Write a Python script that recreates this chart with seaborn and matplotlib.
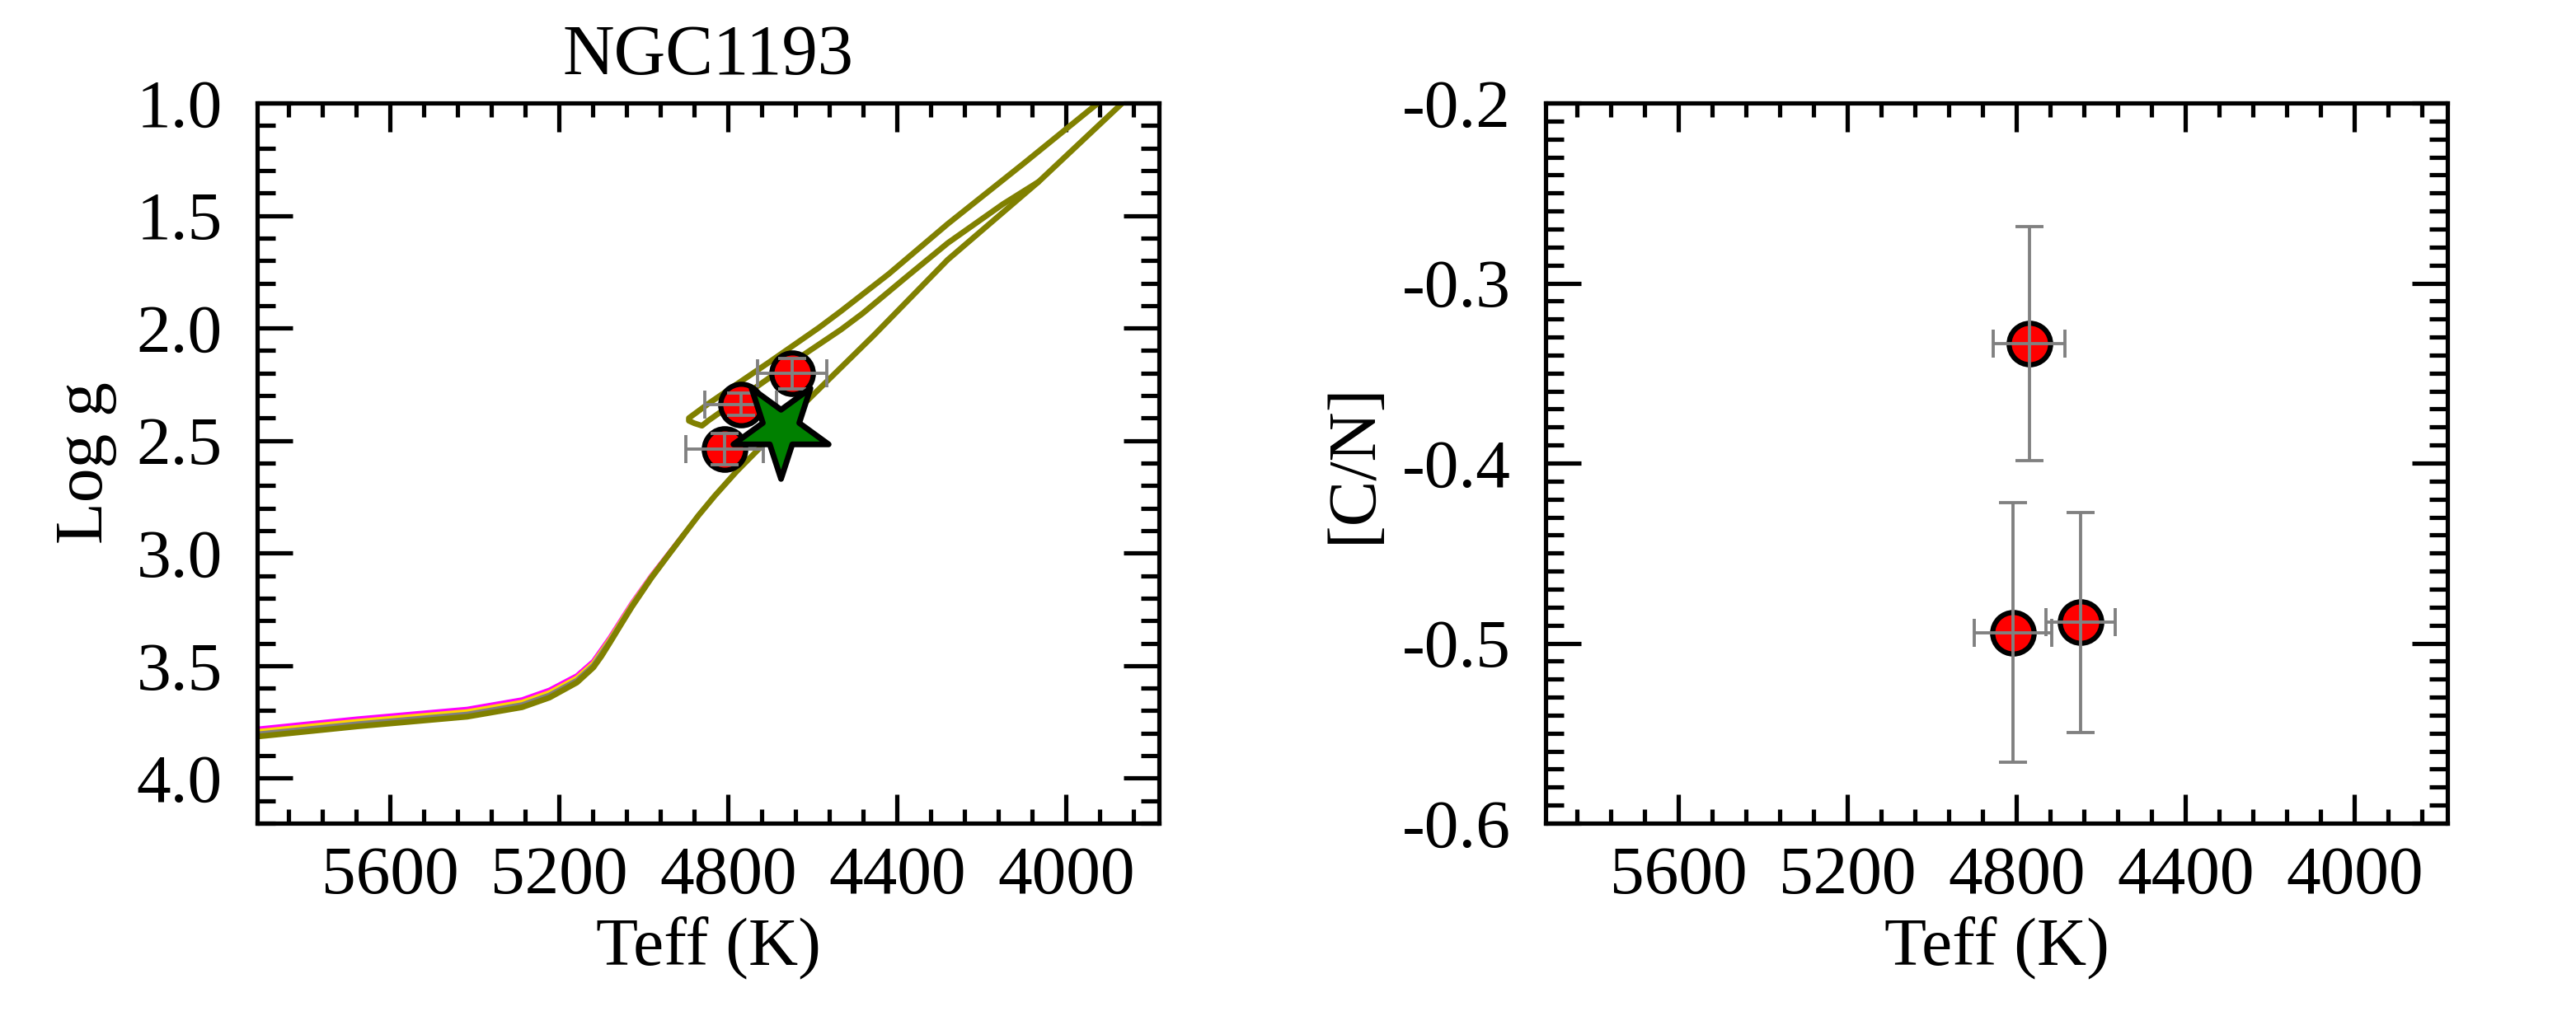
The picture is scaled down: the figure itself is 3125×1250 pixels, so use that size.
import matplotlib
matplotlib.use("Agg")
import matplotlib.pyplot as plt
import seaborn as sns
from matplotlib.markers import MarkerStyle
from matplotlib.transforms import Affine2D
from matplotlib.ticker import MultipleLocator, FormatStrFormatter

# ---------------- data ----------------
# observed stars (NGC1193 giants)
star_teff = [4648, 4770, 4808]
star_teff_err = [82, 85, 92]
star_logg = [2.202, 2.339, 2.538]
star_logg_err = [0.067, 0.049, 0.070]
star_cn = [-0.4885, -0.3335, -0.4941]
star_cn_err = [0.061, 0.065, 0.072]

# mean cluster position (star symbol)
mean_teff = [4675]
mean_logg = [2.446]

# isochrone: turn-off / subgiant / RGB (olive)
rgb_teff = [5930, 5678, 5418, 5288, 5223, 5158, 5119, 5100, 5080, 5054, 5028, 4982,
            4940, 4905, 4870, 4832, 4780, 4700, 4600, 4455, 4280, 4065, 3870, 3840]
rgb_logg = [3.818, 3.770, 3.727, 3.685, 3.642, 3.575, 3.508, 3.458, 3.398, 3.318, 3.239, 3.111,
            3.005, 2.918, 2.832, 2.746, 2.637, 2.485, 2.299, 2.032, 1.696, 1.350, 1.006, 0.955]

# isochrone: red clump loop / AGB (olive)
loop_teff = [3905, 3928, 4100, 4280, 4420, 4533, 4585, 4700, 4780, 4846, 4880, 4893, 4893,
             4880, 4862, 4846, 4700, 4533, 4481, 4380, 4280, 4150, 4065]
loop_logg = [0.960, 1.006, 1.268, 1.537, 1.760, 1.925, 1.998, 2.148, 2.250, 2.335, 2.382, 2.400, 2.412,
             2.423, 2.434, 2.410, 2.218, 2.007, 1.934, 1.776, 1.622, 1.450, 1.350]

# neighbouring isochrones on the subgiant branch
sgb_teff = [5930, 5678, 5418, 5288, 5223, 5158, 5119, 5080, 5028, 4982, 4905]
sgb_logg_gray = [3.807, 3.759, 3.716, 3.674, 3.631, 3.565, 3.499, 3.391, 3.234, 3.108, 2.919]
sgb_logg_yellow = [3.796, 3.748, 3.705, 3.663, 3.620, 3.555, 3.490, 3.384, 3.229, 3.105, 2.918]
sgb_logg_magenta = [3.785, 3.737, 3.694, 3.652, 3.609, 3.545, 3.481, 3.377, 3.224, 3.102, 2.917]

# ---------------- style ----------------
sns.set_theme(style="ticks")
plt.rcParams["font.family"] = ["Liberation Serif", "DejaVu Serif"]
plt.rcParams["axes.unicode_minus"] = False
plt.rcParams["axes.linewidth"] = 1.5
plt.rcParams["axes.edgecolor"] = "black"
plt.rcParams["xtick.color"] = "black"
plt.rcParams["ytick.color"] = "black"
plt.rcParams["text.color"] = "black"
plt.rcParams["axes.labelcolor"] = "black"

FS = 24

fig = plt.figure(figsize=(12.5, 5), dpi=250)
ax1 = fig.add_axes([0.09984, 0.2008, 0.35008, 0.6992])
ax2 = fig.add_axes([0.6, 0.2008, 0.35008, 0.6992])

# ---------------- left panel ----------------
sns.lineplot(x=sgb_teff, y=sgb_logg_magenta, sort=False, estimator=None,
             color="magenta", linewidth=1.8, zorder=1.0, ax=ax1)
sns.lineplot(x=sgb_teff, y=sgb_logg_yellow, sort=False, estimator=None,
             color="gold", linewidth=1.8, zorder=1.1, ax=ax1)
sns.lineplot(x=sgb_teff, y=sgb_logg_gray, sort=False, estimator=None,
             color="gray", linewidth=1.8, zorder=1.2, ax=ax1)
sns.lineplot(x=rgb_teff, y=rgb_logg, sort=False, estimator=None,
             color="olive", linewidth=2.0, zorder=1.3, ax=ax1)
sns.lineplot(x=loop_teff, y=loop_logg, sort=False, estimator=None,
             color="olive", linewidth=2.0, zorder=1.3, ax=ax1)

sns.scatterplot(x=star_teff, y=star_logg, s=14.5 ** 2, color="red",
                edgecolor="black", linewidth=1.8, zorder=3, legend=False, ax=ax1)
ax1.errorbar(star_teff, star_logg, xerr=star_teff_err, yerr=star_logg_err,
             fmt="none", ecolor="gray", elinewidth=1.1, capsize=5, capthick=1.1,
             zorder=4)
star_marker = MarkerStyle("*", transform=Affine2D().rotate_deg(180))
sns.scatterplot(x=mean_teff, y=mean_logg, marker=star_marker, s=35 ** 2,
                color="green", edgecolor="black", linewidth=2.0, zorder=5,
                legend=False, ax=ax1)

ax1.set_xlim(5915, 3780)
ax1.set_ylim(4.2, 1.0)
ax1.yaxis.set_major_locator(MultipleLocator(0.5))
ax1.yaxis.set_minor_locator(MultipleLocator(0.1))
ax1.yaxis.set_major_formatter(FormatStrFormatter("%.1f"))
ax1.set_title("NGC1193", fontsize=25, pad=10)
ax1.set_ylabel("Log g", fontsize=FS, labelpad=6.7)

# ---------------- right panel ----------------
sns.scatterplot(x=star_teff, y=star_cn, s=14.5 ** 2, color="red",
                edgecolor="black", linewidth=1.8, zorder=3, legend=False, ax=ax2)
ax2.errorbar(star_teff, star_cn, xerr=star_teff_err, yerr=star_cn_err,
             fmt="none", ecolor="gray", elinewidth=1.1, capsize=5, capthick=1.1,
             zorder=4)
ax2.set_xlim(5915, 3780)
ax2.set_ylim(-0.6, -0.2)
ax2.yaxis.set_major_locator(MultipleLocator(0.1))
ax2.yaxis.set_minor_locator(MultipleLocator(0.01))
ax2.yaxis.set_major_formatter(FormatStrFormatter("%.1f"))
ax2.set_ylabel("[C/N]", fontsize=FS, labelpad=5.8)

for ax in (ax1, ax2):
    ax.xaxis.set_major_locator(MultipleLocator(400))
    ax.xaxis.set_minor_locator(MultipleLocator(80))
    ax.xaxis.set_major_formatter(FormatStrFormatter("%d"))
    ax.set_xlabel("Teff (K)", fontsize=FS, labelpad=3)
    ax.tick_params(which="both", direction="in", top=True, right=True,
                   width=1.5, labelsize=FS, colors="black")
    ax.tick_params(axis="x", which="major", length=10, pad=7.8)
    ax.tick_params(axis="x", which="minor", length=5)
    ax.tick_params(axis="y", which="major", length=12.5, pad=12.2)
    ax.tick_params(axis="y", which="minor", length=6.3)
    for sp in ax.spines.values():
        sp.set_linewidth(1.5)
        sp.set_color("black")

fig.savefig("out.png", dpi=250, facecolor="white")
